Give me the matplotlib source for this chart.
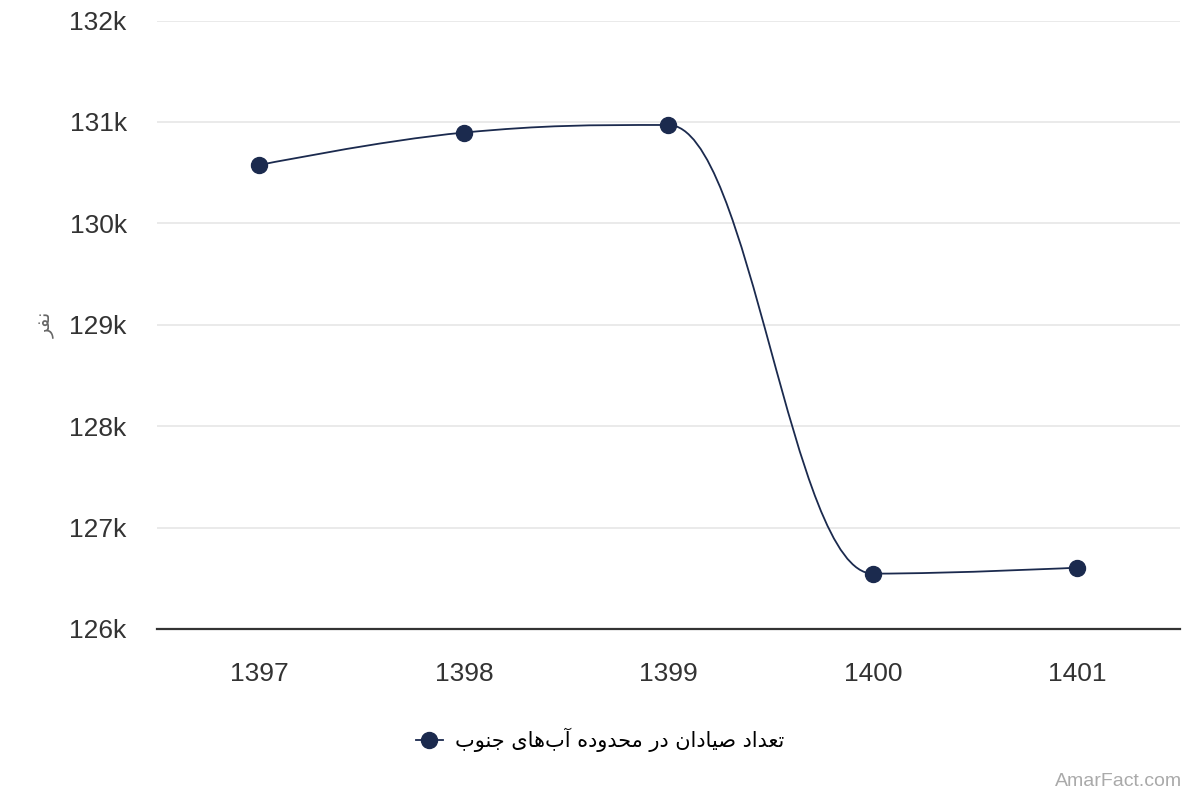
import matplotlib
matplotlib.use("Agg")
import matplotlib.pyplot as plt
from matplotlib.path import Path
from matplotlib.patches import PathPatch
from matplotlib.lines import Line2D
from matplotlib.ticker import FuncFormatter

years = ["1397", "1398", "1399", "1400", "1401"]
fishermen = [130575, 130895, 130970, 126546, 126605]
series_name = "تعداد صیادان در محدوده آب‌های جنوب"
y_title = "نفر"
credit = "AmarFact.com"

NAVY = "#1b2a4e"

# Arabic/Persian letters -> presentation forms (isolated, final, initial, medial)
FORMS = {
    "\u0627": ("\uFE8D", "\uFE8E"),
    "\u0622": ("\uFE81", "\uFE82"),
    "\u062F": ("\uFEA9", "\uFEAA"),
    "\u0631": ("\uFEAD", "\uFEAE"),
    "\u0648": ("\uFEED", "\uFEEE"),
    "\u0628": ("\uFE8F", "\uFE90", "\uFE91", "\uFE92"),
    "\u062A": ("\uFE95", "\uFE96", "\uFE97", "\uFE98"),
    "\u062C": ("\uFE9D", "\uFE9E", "\uFE9F", "\uFEA0"),
    "\u062D": ("\uFEA1", "\uFEA2", "\uFEA3", "\uFEA4"),
    "\u0635": ("\uFEB9", "\uFEBA", "\uFEBB", "\uFEBC"),
    "\u0639": ("\uFEC9", "\uFECA", "\uFECB", "\uFECC"),
    "\u0641": ("\uFED1", "\uFED2", "\uFED3", "\uFED4"),
    "\u0645": ("\uFEE1", "\uFEE2", "\uFEE3", "\uFEE4"),
    "\u0646": ("\uFEE5", "\uFEE6", "\uFEE7", "\uFEE8"),
    "\u0647": ("\uFEE9", "\uFEEA", "\uFEEB", "\uFEEC"),
    "\u06CC": ("\uFBFC", "\uFBFD", "\uFBFE", "\uFBFF"),
}


def shape_rtl(text):
    out = []
    n = len(text)
    for i, ch in enumerate(text):
        if ch == "\u200c":
            continue
        if ch not in FORMS:
            out.append(ch)
            continue
        f = FORMS[ch]
        prev = text[i - 1] if i > 0 else ""
        nxt = text[i + 1] if i + 1 < n else ""
        jp = prev in FORMS and len(FORMS[prev]) == 4
        jn = len(f) == 4 and nxt in FORMS
        if jp and jn:
            out.append(f[3])
        elif jp:
            out.append(f[1])
        elif jn:
            out.append(f[2])
        else:
            out.append(f[0])
    return "".join(reversed(out))


def spline_path(xs, ys, smoothing=1.5):
    # highcharts-like spline control points
    n = len(xs)
    left = [(x, y) for x, y in zip(xs, ys)]
    right = [(x, y) for x, y in zip(xs, ys)]
    d = smoothing + 1
    for i in range(1, n - 1):
        px, py = xs[i], ys[i]
        lx, ly = xs[i - 1], ys[i - 1]
        nx, ny = xs[i + 1], ys[i + 1]
        lcx = (smoothing * px + lx) / d
        lcy = (smoothing * py + ly) / d
        rcx = (smoothing * px + nx) / d
        rcy = (smoothing * py + ny) / d
        if rcx != lcx:
            corr = (rcy - lcy) * (rcx - px) / (rcx - lcx) + py - rcy
            lcy += corr
            rcy += corr
        if lcy > ly and lcy > py:
            lcy = max(ly, py)
            rcy = 2 * py - lcy
        elif lcy < ly and lcy < py:
            lcy = min(ly, py)
            rcy = 2 * py - lcy
        if rcy > ny and rcy > py:
            rcy = max(ny, py)
            lcy = 2 * py - rcy
        elif rcy < ny and rcy < py:
            rcy = min(ny, py)
            lcy = 2 * py - rcy
        left[i] = (lcx, lcy)
        right[i] = (rcx, rcy)
    verts = [(xs[0], ys[0])]
    codes = [Path.MOVETO]
    for i in range(1, n):
        verts += [right[i - 1], left[i], (xs[i], ys[i])]
        codes += [Path.CURVE4] * 3
    return Path(verts, codes)


plt.rcParams["font.family"] = ["Liberation Sans", "DejaVu Sans"]

fig = plt.figure(figsize=(12, 8), dpi=100)
ax = fig.add_axes([0.131, 0.21375, 0.852, 0.7606])

xs = list(range(len(years)))
ax.add_patch(PathPatch(spline_path(xs, fishermen), fill=False, edgecolor=NAVY,
                       lw=1.3, zorder=3))
ax.plot(xs, fishermen, "o", color=NAVY, markersize=11.5, zorder=4)

ax.set_xlim(-0.5, len(years) - 0.5)
ax.set_ylim(126000, 132000)
ax.set_yticks(range(126000, 132001, 1000))
ax.yaxis.set_major_formatter(FuncFormatter(lambda v, p: f"{int(v / 1000)}k"))
ax.set_xticks(xs)
ax.set_xticklabels(years)

ax.grid(axis="y", color="#e6e6e6", lw=1.2)
ax.set_axisbelow(True)
for s in ["top", "right", "left"]:
    ax.spines[s].set_visible(False)
ax.spines["bottom"].set_color("#333333")
ax.spines["bottom"].set_linewidth(1.6)
ax.tick_params(axis="both", length=0, labelsize=19, colors="#333333")
ax.tick_params(axis="y", pad=22)
ax.tick_params(axis="x", pad=24)

ax.set_ylabel(shape_rtl(y_title), family=["DejaVu Sans"], fontsize=14,
              color="#666666", labelpad=10)

handle = Line2D([], [], color=NAVY, lw=1.3, marker="o", markersize=11.5)
fig.legend([handle], [shape_rtl(series_name)], loc="center",
           bbox_to_anchor=(0.5, 0.075), frameon=False, handlelength=1.3,
           handletextpad=0.6, prop={"family": ["DejaVu Sans"], "size": 15})

fig.text(0.985, 0.012, credit, ha="right", va="bottom", fontsize=14,
         color="#aaaaaa")

fig.savefig("out.png", dpi=100, facecolor="white")
